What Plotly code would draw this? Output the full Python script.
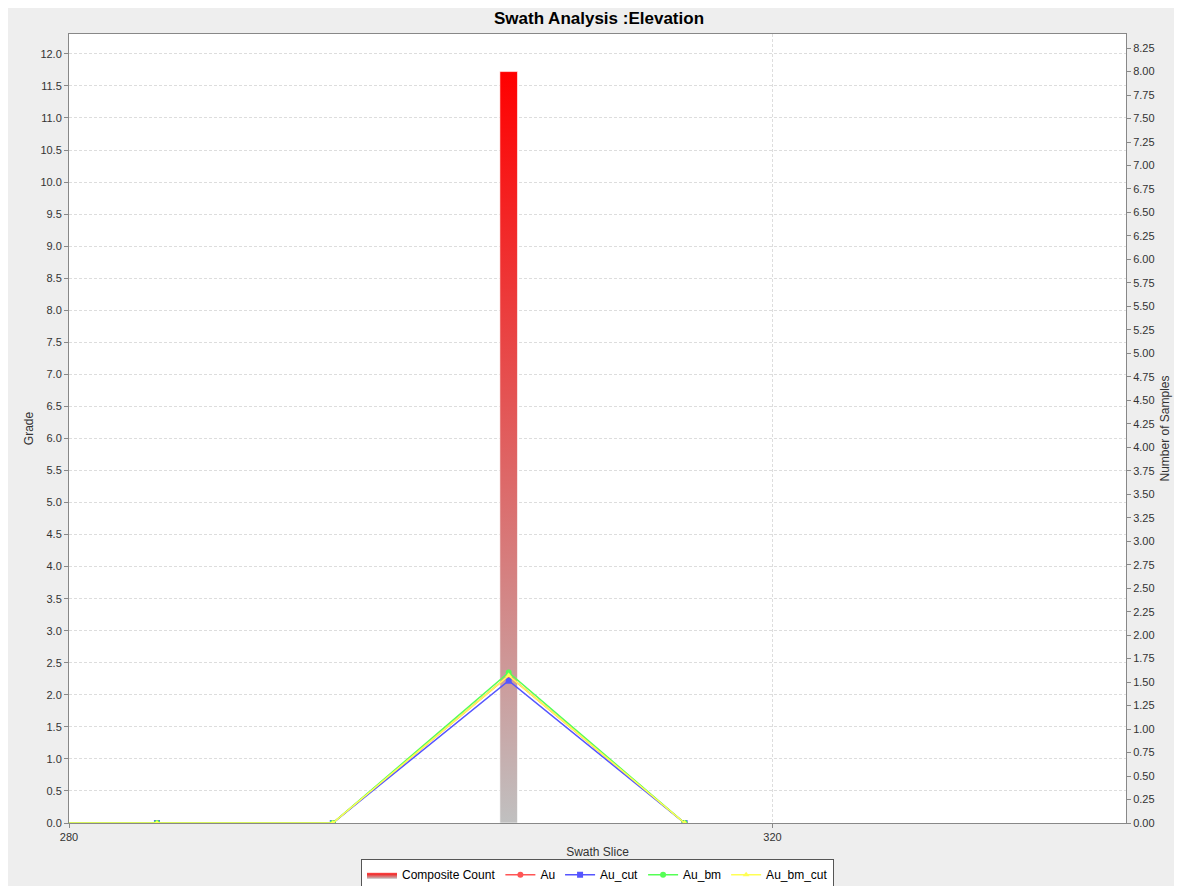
import plotly.graph_objects as go

# swath slices and values
slices = [275, 285, 295, 305, 315]
au = [0.0, 0.0, 0.0, 2.30, 0.0]
au_cut = [0.0, 0.0, 0.0, 2.22, 0.0]
au_bm = [0.0, 0.0, 0.0, 2.35, 0.0]
au_bm_cut = [0.0, 0.0, 0.0, 2.30, 0.0]

count_slices = [305]
counts = [8]
bar_width = 1.0

grade_ticks = [i * 0.5 for i in range(25)]
count_ticks = [i * 0.25 for i in range(34)]

fig = go.Figure()

# composite count bars on the base (right) axis so the grade lines sit on top
for xc, c in zip(count_slices, counts):
    x0, x1 = xc - bar_width / 2, xc + bar_width / 2
    fig.add_trace(go.Scatter(
        x=[x0, x1, x1, x0, x0], y=[0, 0, c, c, 0],
        yaxis="y", mode="lines", fill="toself",
        line=dict(color="rgba(255,255,255,0.6)", width=1),
        fillgradient=dict(type="vertical",
                          colorscale=[[0, "rgb(192,192,192)"], [1, "rgb(255,0,0)"]]),
        name="Composite Count", hoverinfo="skip",
    ))

series = [
    ("Au", au, "#FF5555", "circle"),
    ("Au_cut", au_cut, "#5555FF", "square"),
    ("Au_bm", au_bm, "#55FF55", "circle"),
    ("Au_bm_cut", au_bm_cut, "#FFFF55", "triangle-up"),
]
for name, vals, col, sym in series:
    fig.add_trace(go.Scatter(
        x=slices, y=vals, name=name, mode="lines+markers", yaxis="y2",
        line=dict(color=col, width=1.5),
        marker=dict(color=col, symbol=sym, size=6),
    ))

axis_font = dict(family="Liberation Sans, Arial, sans-serif", size=11, color="#333333")
grid = dict(showgrid=True, gridcolor="#DDDDDD", griddash="3px,2px", gridwidth=1)

fig.update_layout(
    width=1182, height=886,
    margin=dict(l=61, r=64, t=26, b=71, autoexpand=False),
    paper_bgcolor="#EEEEEE", plot_bgcolor="white",
    font=axis_font,
    title=dict(text="<b>Swath Analysis :Elevation</b>", x=0.5, xanchor="center",
               y=1 - 10 / 886, yanchor="middle",
               font=dict(family="Liberation Sans, Arial, sans-serif", size=17, color="black")),
    showlegend=True,
    legend=dict(orientation="h", x=0.5, xanchor="center", y=-0.046, yanchor="top",
                bgcolor="white", bordercolor="#555555", borderwidth=1,
                font=dict(size=12, color="black"), itemwidth=30, tracegroupgap=0),
    xaxis=dict(range=[280, 340.1], tickvals=[280, 320], ticktext=["280", "320"],
               zeroline=False, showline=True, linecolor="#888888", mirror=True,
               ticks="outside", ticklen=4, tickcolor="#888888",
               title=dict(text="Swath Slice", standoff=5, font=dict(size=12, color="#333333")),
               **grid),
    yaxis=dict(range=[0, 8.4], tickvals=count_ticks, tickformat=".2f",
               side="right", showgrid=False, zeroline=False,
               showline=True, linecolor="#888888",
               ticks="outside", ticklen=4, tickcolor="#888888",
               title=dict(text="Number of Samples", standoff=6, font=dict(size=12, color="#333333"))),
    yaxis2=dict(range=[0, 12.31], tickvals=grade_ticks, tickformat=".1f",
                overlaying="y", side="left",
                zeroline=False, showline=True, linecolor="#888888",
                ticks="outside", ticklen=4, tickcolor="#888888",
                title=dict(text="Grade", standoff=4, font=dict(size=12, color="#333333")),
                **grid),
)

fig.write_html("out.html")
